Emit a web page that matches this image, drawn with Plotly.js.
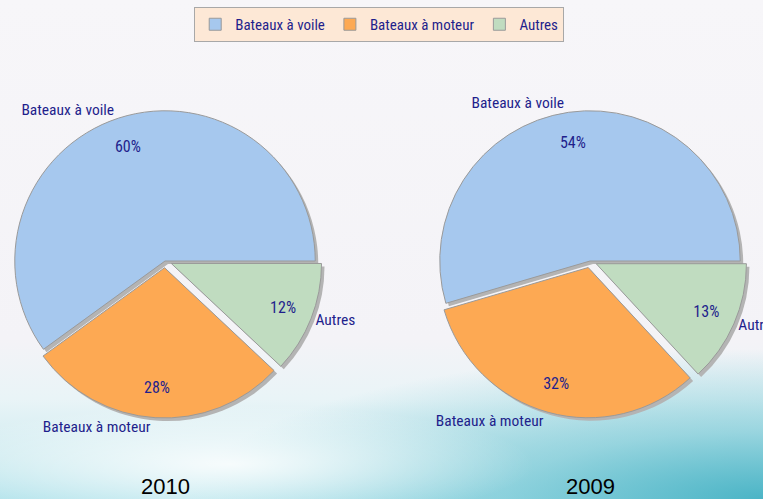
<!DOCTYPE html>
<html>
<head>
<meta charset="utf-8">
<script src="https://cdn.plot.ly/plotly-3.0.1.min.js"></script>
<style>
  html, body { margin: 0; padding: 0; }
  #chart {
    width: 763px; height: 499px;
    background:
      radial-gradient(ellipse 40% 12% at 30% 93%, rgba(255,255,255,0.85) 0%, rgba(255,255,255,0) 100%),
      radial-gradient(ellipse 75% 30% at 100% 100%, rgba(70,178,196,0.95) 0%, rgba(110,196,210,0.6) 45%, rgba(190,230,236,0) 100%),
      linear-gradient(to bottom, #f7f6f9 0%, #f4f3f7 68%, #e9f4f7 80%, #cdebf0 92%, #b5e4ec 100%);
  }
</style>
</head>
<body>
<div id="chart"></div>
<script>
// ---- data ----
var categories = ["Bateaux à voile", "Bateaux à moteur", "Autres"];
var values2010 = [60, 28, 12];
var values2009 = [54, 32, 13];
var years = ["2010", "2009"];
var colors = ["#a6c8ee", "#fda953", "#c0dcc0"];

// ---- layout helpers ----
var W = 763, H = 499;
var textColor = "#1f1f8c";
var narrow = "Liberation Sans Narrow, Arial Narrow, Roboto Condensed, Liberation Sans, Arial, sans-serif";
var pulls = [0, 0.045, 0.045];

function dom(cx, cy, half, dx, dy) {
  dx = dx || 0; dy = dy || 0;
  return {
    x: [(cx - half + dx) / W, (cx + half + dx) / W],
    y: [(H - (cy + half + dy)) / H, (H - (cy - half + dy)) / H]
  };
}

var centers = [[165, 261], [590, 261]];
var half = 157;
var series = [values2010, values2009];
var clear = ["rgba(0,0,0,0)", "rgba(0,0,0,0)", "rgba(0,0,0,0)"];

var traces = [];
series.forEach(function (vals, i) {
  var c = centers[i];
  var total = vals.reduce(function (a, b) { return a + b; }, 0);
  // first slice starts at 3 o'clock and runs counterclockwise
  var rot = 90 - 360 * vals[0] / total;
  var base = {
    type: "pie", labels: categories, values: vals, sort: false,
    direction: "counterclockwise", rotation: rot, pull: pulls
  };
  // shadow
  traces.push(Object.assign({}, base, {
    domain: dom(c[0], c[1], half, 3, 3),
    marker: { colors: ["#b4b4b4", "#b4b4b4", "#b4b4b4"], line: { width: 0 } },
    textinfo: "none", showlegend: false, hoverinfo: "skip"
  }));
  // main slices
  traces.push(Object.assign({}, base, {
    domain: dom(c[0], c[1], half),
    marker: { colors: colors, line: { color: "#9a9a9a", width: 1 } },
    textinfo: "none", showlegend: i === 0, name: years[i]
  }));
  // percentages, placed in the outer ring
  traces.push(Object.assign({}, base, {
    domain: dom(c[0], c[1], half), hole: 0.6,
    marker: { colors: clear, line: { width: 0 } },
    texttemplate: "%{value}%", textposition: "inside",
    insidetextorientation: "horizontal",
    insidetextfont: { family: narrow, size: 16, color: textColor },
    showlegend: false, hoverinfo: "skip"
  }));
  // outside category labels
  traces.push(Object.assign({}, base, {
    domain: dom(c[0], c[1], half),
    marker: { colors: clear, line: { width: 0 } },
    textinfo: "label", textposition: "outside",
    outsidetextfont: { family: narrow, size: 15.5, color: textColor },
    showlegend: false, hoverinfo: "skip"
  }));
});

var layout = {
  width: W, height: H,
  margin: { l: 0, r: 0, t: 0, b: 0 },
  paper_bgcolor: "rgba(0,0,0,0)",
  plot_bgcolor: "rgba(0,0,0,0)",
  showlegend: true,
  legend: {
    orientation: "h", x: 0.497, xanchor: "center", y: 1 - 7 / H, yanchor: "top",
    bgcolor: "#fde8d6", bordercolor: "#a8a8a8", borderwidth: 1,
    font: { family: narrow, size: 15, color: textColor },
    traceorder: "normal"
  },
  annotations: years.map(function (y, i) {
    return {
      text: y, showarrow: false, xref: "paper", yref: "paper",
      x: centers[i][0] / W, y: (H - 486) / H, xanchor: "center", yanchor: "middle",
      font: { family: "Liberation Sans, Arial, sans-serif", size: 22, color: "#000" }
    };
  })
};

Plotly.newPlot("chart", traces, layout, { displayModeBar: false, staticPlot: true });
</script>
</body>
</html>
